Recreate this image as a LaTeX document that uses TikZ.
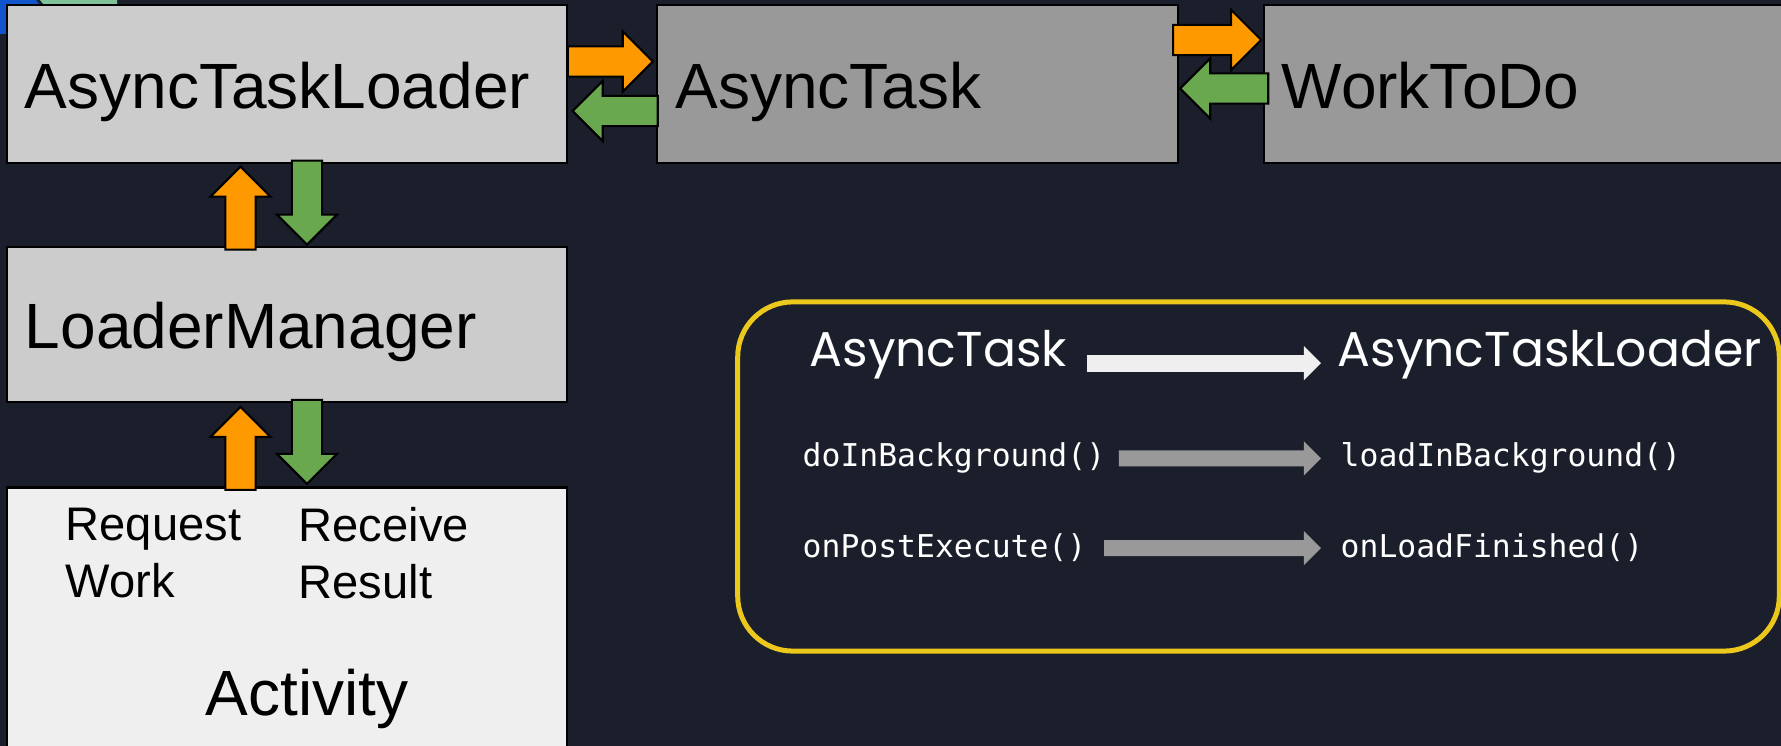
\documentclass[tikz,border=0pt]{standalone}
\usepackage{fontspec}
\setmainfont{Liberation Sans}
\newfontfamily\headfont{Poppins}
\newfontfamily\codefont{DejaVu Sans Mono}
\usetikzlibrary{shapes.arrows, arrows.meta, positioning, calc}

\definecolor{slidebg}{RGB}{27,31,43}
\definecolor{lightbox}{HTML}{CCCCCC}
\definecolor{darkbox}{HTML}{999999}
\definecolor{actbox}{HTML}{EFEFEF}
\definecolor{reqorange}{HTML}{FF9900}
\definecolor{resgreen}{HTML}{6AA84F}
\definecolor{panelyellow}{RGB}{236,200,28}
\definecolor{slideblue}{HTML}{1155CC}
\definecolor{slidemint}{HTML}{7FC39A}

\begin{document}
\begin{tikzpicture}[
    x=0.01cm, y=-0.01cm,
    node distance=0.9cm,
    font=\fontsize{18.2}{21}\selectfont,
    box/.style={rectangle, draw=black, line width=0.6pt, inner xsep=0.18cm, align=left, minimum height=1.58cm, text height=0.62cm, text depth=0.14cm},
    reqarrow/.style={single arrow, anchor=tip, draw=black, line width=0.6pt, fill=reqorange, inner xsep=0pt, inner ysep=0.14cm, single arrow head extend=0.15cm, single arrow head indent=0pt, minimum height=0.85cm},
    resarrow/.style={reqarrow, fill=resgreen},
    note/.style={inner sep=0pt, anchor=base west, text=white},
    heading/.style={note, font=\headfont\fontsize{13.9}{16}\selectfont},
    method/.style={note, font=\codefont\fontsize{8.93}{11}\selectfont},
    bigarrow/.style={line width=0.17cm, draw=actbox, -{Triangle[length=0.17cm, width=0.34cm, line width=0pt]}},
    maparrow/.style={line width=0.16cm, draw=darkbox, -{Triangle[length=0.17cm, width=0.34cm, line width=0pt]}}
]
\useasboundingbox (0,0) rectangle (1781,746);
\clip (0,0) rectangle (1781,746);
\fill[slidebg] (0,0) rectangle (1781,746);
% bits of neighbouring slide shapes in the corner
\fill[slideblue] (0,0) -- (36,0) -- (42,8) -- (42,34) -- (0,34) -- cycle;
\fill[slidemint] (40,0) -- (117,0) -- (117,5) -- (44,5) -- cycle;
% ---------------- LOADER CHAIN ----------------
\node[box, fill=lightbox, text width=5.24cm] (loader) at (287,84) {AsyncTaskLoader};
\node[box, fill=darkbox, text width=4.84cm, right=0.88cm of loader] (task) {AsyncTask};
\node[box, fill=darkbox, text width=5.24cm, right=0.84cm of task] (work) {WorkToDo};
\node[box, fill=lightbox, text width=5.24cm, minimum height=1.55cm, below=0.82cm of loader] (manager) {LoaderManager};
\node[box, fill=actbox, text width=5.24cm, minimum height=3cm, below=0.83cm of manager] (activity) {};
\node[anchor=north west, inner sep=0pt, align=left, font=\fontsize{13.4}{16.2}\selectfont] (request) at (65,507) {Request\\Work};
\node[anchor=north west, inner sep=0pt, align=left, font=\fontsize{13.4}{16.2}\selectfont] (receive) at (298,507) {Receive\\Result};
\node[anchor=north west, inner sep=0pt] (actname) at (205,668) {Activity};
% ---------------- request / result arrows ----------------
\node[reqarrow] (askwork) at ($(task.west)+(-2,-22.5)$) {};
\node[resarrow, rotate=180] (gotwork) at ($(loader.east)+(3,27)$) {};
\node[reqarrow, minimum height=0.88cm] (askdo) at ($(work.west)+(0,-44)$) {};
\node[resarrow, rotate=180, minimum height=0.88cm] (gotdo) at ($(task.east)+(0,4.5)$) {};
\node[reqarrow, rotate=90, minimum height=0.83cm] (askload) at ($(loader.south)+(-46.5,1)$) {};
\node[resarrow, rotate=270, minimum height=0.84cm] (gotload) at ($(manager.north)+(20,0)$) {};
\node[reqarrow, rotate=90, minimum height=0.83cm] (askmgr) at ($(manager.south)+(-46.5,2)$) {};
\node[resarrow, rotate=270, minimum height=0.84cm] (gotmgr) at ($(activity.north)+(20,-1)$) {};
% ---------------- API MAPPING ----------------
\node[draw=panelyellow, line width=0.05cm, rounded corners=0.55cm, minimum width=10.41cm, minimum height=3.49cm] (panel) at (1258.5,476.5) {};
\node[heading] (oldname) at (809,367) {AsyncTask};
\node[heading] (newname) at (1337,367) {AsyncTaskLoader};
\node[method] (oldwork) at (802,467) {doInBackground()};
\node[method] (newwork) at (1340,467) {loadInBackground()};
\node[method] (olddone) at (802,558) {onPostExecute()};
\node[method] (newdone) at (1340,558) {onLoadFinished()};
\draw[bigarrow, shorten <=0.19cm, shorten >=0.16cm] ([yshift=-0.08cm]oldname.east) -- ([yshift=-0.08cm]newname.west);
\draw[maparrow, shorten <=0.13cm, shorten >=0.19cm] (oldwork) -- (newwork);
\draw[maparrow, shorten <=0.17cm, shorten >=0.19cm] (olddone) -- (newdone);
\end{tikzpicture}
\end{document}
